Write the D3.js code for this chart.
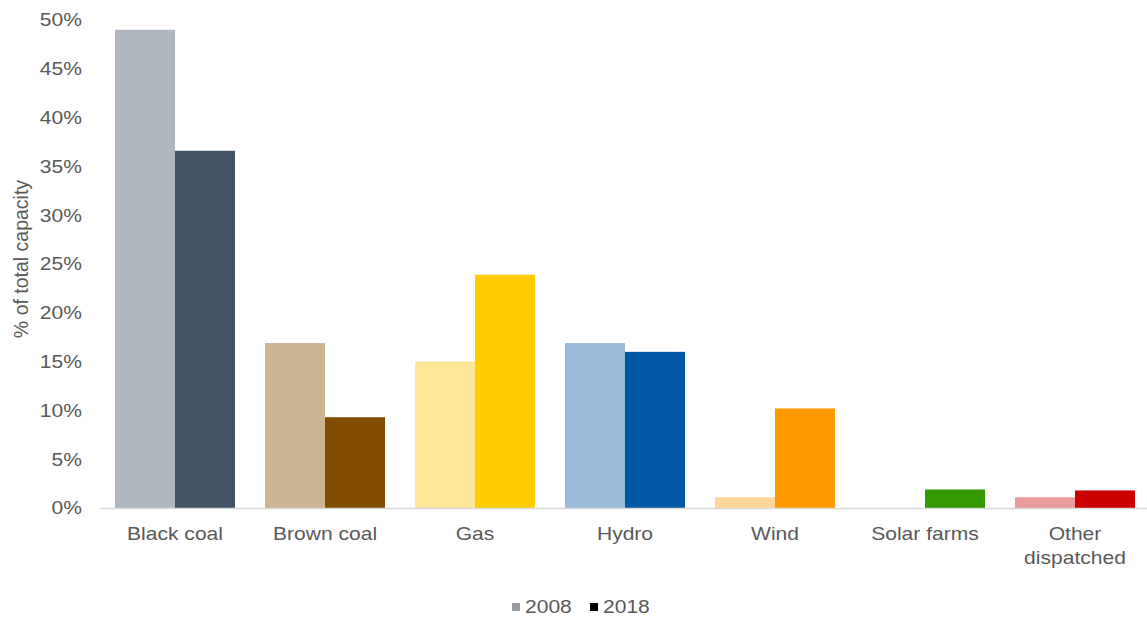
<!DOCTYPE html>
<html><head><meta charset="utf-8">
<script src="https://cdn.jsdelivr.net/npm/d3@7"></script>
<style>body{margin:0;background:#fff}svg{display:block;font-family:"Liberation Sans",Arial,sans-serif}</style>
</head><body>
<svg id="c" width="1147" height="619"></svg>
<script>
const categories = ["Black coal","Brown coal","Gas","Hydro","Wind","Solar farms","Other dispatched"];
const series = ["2008","2018"];
const values2008 = [49.0, 16.9, 15.0, 16.9, 1.1, 0.0, 1.1];
const values2018 = [36.6, 9.3, 23.9, 16.0, 10.2, 1.9, 1.8];
const colors2008 = ["#b0b7bf","#cdb594","#ffe699","#9abcdb","#ffd699","#a6d98c","#eb9a9a"];
const colors2018 = ["#415364","#7f4c00","#ffcc00","#0057a6","#ff9900","#339900","#cc0000"];
const yTicks = [0,5,10,15,20,25,30,35,40,45,50];
const legendColors = ["#999999","#000000"];

const svg = d3.select("#c");
const txt = "#595959";
const sx = 1.17;
const x = d3.scaleBand().domain(categories).range([100,1150]).paddingInner(0.2).paddingOuter(0.1);
const x1 = d3.scaleBand().domain(series).range([0,x.bandwidth()]);
const y = d3.scaleLinear().domain([0,50]).range([508,20]);

// bars
const g = svg.append("g");
categories.forEach((c,i)=>{
  [values2008[i], values2018[i]].forEach((v,j)=>{
    if (v<=0) return;
    g.append("rect")
      .attr("x", x(c)+x1(series[j]))
      .attr("y", y(v))
      .attr("width", x1.bandwidth())
      .attr("height", y(0)-y(v))
      .attr("fill", j===0?colors2008[i]:colors2018[i]);
  });
});

// x axis line
svg.append("line").attr("x1",100).attr("x2",1147).attr("y1",y(0)+0.5).attr("y2",y(0)+0.5)
  .attr("stroke","#d9d9d9").attr("stroke-width",1.5);

// y tick labels
yTicks.forEach(t=>{
  svg.append("text").attr("transform",`translate(82,${y(t)}) scale(${sx},1)`)
    .attr("text-anchor","end").attr("dy","0.35em")
    .attr("font-size",18).attr("fill",txt).text(t+"%");
});

// y title
svg.append("text").attr("transform","translate(28,259) rotate(-90)")
  .attr("text-anchor","middle").attr("font-size",19.5).attr("fill",txt)
  .text("% of total capacity");

// category labels
categories.forEach(c=>{
  const cx = x(c)+x.bandwidth()/2;
  const lines = c==="Other dispatched" ? ["Other","dispatched"] : [c];
  lines.forEach((l,k)=>{
    svg.append("text").attr("transform",`translate(${cx},${540+k*24}) scale(${sx},1)`)
      .attr("text-anchor","middle").attr("font-size",18).attr("fill",txt).text(l);
  });
});

// legend
const lx = [512, 590];
series.forEach((s,i)=>{
  svg.append("rect").attr("x",lx[i]).attr("y",603).attr("width",8).attr("height",8).attr("fill",legendColors[i]);
  svg.append("text").attr("transform",`translate(${lx[i]+13},613) scale(${sx},1)`)
    .attr("font-size",18).attr("fill",txt).text(s);
});
</script>
</body></html>
